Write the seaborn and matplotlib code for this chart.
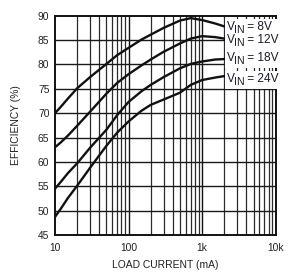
import matplotlib
matplotlib.use("Agg")
import matplotlib.pyplot as plt
import seaborn as sns
import pandas as pd
from matplotlib.ticker import FixedLocator, NullFormatter, FixedFormatter
from matplotlib.transforms import offset_copy, IdentityTransform, Bbox
from matplotlib.patches import Rectangle

current_ma = [10, 12, 15, 20, 30, 50, 70, 100, 150, 200, 300, 500, 700, 1000, 1500, 2000]
eff_8v = [70.0, 71.3, 73.0, 75.1, 77.4, 80.1, 81.9, 83.4, 85.1, 86.1, 87.5, 89.0, 89.5, 89.1, 88.4, 87.8]
eff_12v = [63.0, 64.0, 65.4, 67.4, 70.3, 74.0, 76.2, 78.0, 79.8, 81.0, 82.6, 84.3, 85.3, 85.8, 85.6, 85.3]
eff_18v = [54.5, 55.9, 57.7, 59.7, 62.9, 66.6, 69.6, 72.3, 74.5, 75.8, 77.4, 79.2, 80.1, 80.6, 81.0, 81.1]
eff_24v = [48.7, 50.4, 52.6, 55.1, 58.8, 63.3, 66.0, 68.3, 70.5, 71.7, 72.8, 74.2, 75.8, 76.8, 77.3, 77.6]
series_names = ["8V", "12V", "18V", "24V"]
label_y = [87.7, 85.0, 81.4, 77.1]
x_ticks = [10, 100, 1000, 10000]
x_tick_labels = ["10", "100", "1k", "10k"]
y_ticks = list(range(45, 91, 5))

frames = []
for name, vals in zip(series_names, [eff_8v, eff_12v, eff_18v, eff_24v]):
    frames.append(pd.DataFrame({"current": current_ma, "eff": vals, "vin": name}))
df = pd.concat(frames, ignore_index=True)

sns.set_style("white")
narrow = ["Liberation Sans Narrow", "Liberation Sans", "DejaVu Sans"]
plt.rcParams["font.family"] = narrow

fig = plt.figure(figsize=(3.05, 2.75), dpi=100)
ax = fig.add_axes([0.1803, 0.1455, 0.7237, 0.7975])

sns.lineplot(data=df, x="current", y="eff", hue="vin", palette=["#111111"] * 4,
             linewidth=1.7, legend=False, ax=ax, zorder=3)

ax.set_xscale("log")
ax.set_xlim(10, 10000)
ax.set_ylim(45, 90)

# grid
minor = [m * d for d in (10, 100, 1000) for m in range(2, 10)]
for xv in minor:
    ax.axvline(xv, color="#2a2a2a", lw=0.9, zorder=1)
for xv in x_ticks[1:-1]:
    ax.axvline(xv, color="#111111", lw=1.0, zorder=1)
for yv in y_ticks[1:-1]:
    ax.axhline(yv, color="#1a1a1a", lw=1.0, zorder=1)

ax.xaxis.set_major_locator(FixedLocator(x_ticks))
ax.xaxis.set_major_formatter(FixedFormatter(x_tick_labels))
ax.xaxis.set_minor_formatter(NullFormatter())
ax.set_yticks(y_ticks)
ax.tick_params(axis="both", which="both", length=0, labelsize=7.4, colors="#222222")
ax.tick_params(axis="x", pad=6)
ax.tick_params(axis="y", pad=4)

for s in ax.spines.values():
    s.set_color("#111111")
    s.set_linewidth(1.4)

ax.set_xlabel("LOAD CURRENT (mA)", fontsize=7.4, color="#222222", labelpad=5)
ax.set_ylabel("EFFICIENCY (%)", fontsize=7.4, color="#222222", labelpad=12)

fig.canvas.draw()
renderer = fig.canvas.get_renderer()
ax_right = ax.get_window_extent(renderer).x1
for name, yv in zip(series_names, label_y):
    kw = dict(color="#1a1a2a", va="center", ha="left", zorder=6, clip_on=False)
    t1 = ax.text(2150, yv, "V", fontsize=8.6, **kw)
    e1 = t1.get_window_extent(renderer)
    w1 = e1.width - 0.8
    tr2 = offset_copy(ax.transData, fig=fig, x=w1, y=-3, units="dots")
    t2 = ax.text(2150, yv, "IN", fontsize=7.6, transform=tr2, **kw)
    e2 = t2.get_window_extent(renderer)
    w2 = e2.width - 0.5
    tr3 = offset_copy(ax.transData, fig=fig, x=w1 + w2, y=0, units="dots")
    t3 = ax.text(2150, yv, " = " + name, fontsize=8.6, transform=tr3, **kw)
    e3 = t3.get_window_extent(renderer)
    u = Bbox.union([e1, e2, e3])
    x0 = u.x0 - 2
    x1 = max(u.x1 + 2, ax_right + 2)
    ax.add_patch(Rectangle((x0, u.y0 - 2), x1 - x0, u.height + 4,
                           transform=IdentityTransform(), facecolor="white",
                           edgecolor="none", zorder=5, clip_on=False))

fig.savefig("out.png", dpi=100)
